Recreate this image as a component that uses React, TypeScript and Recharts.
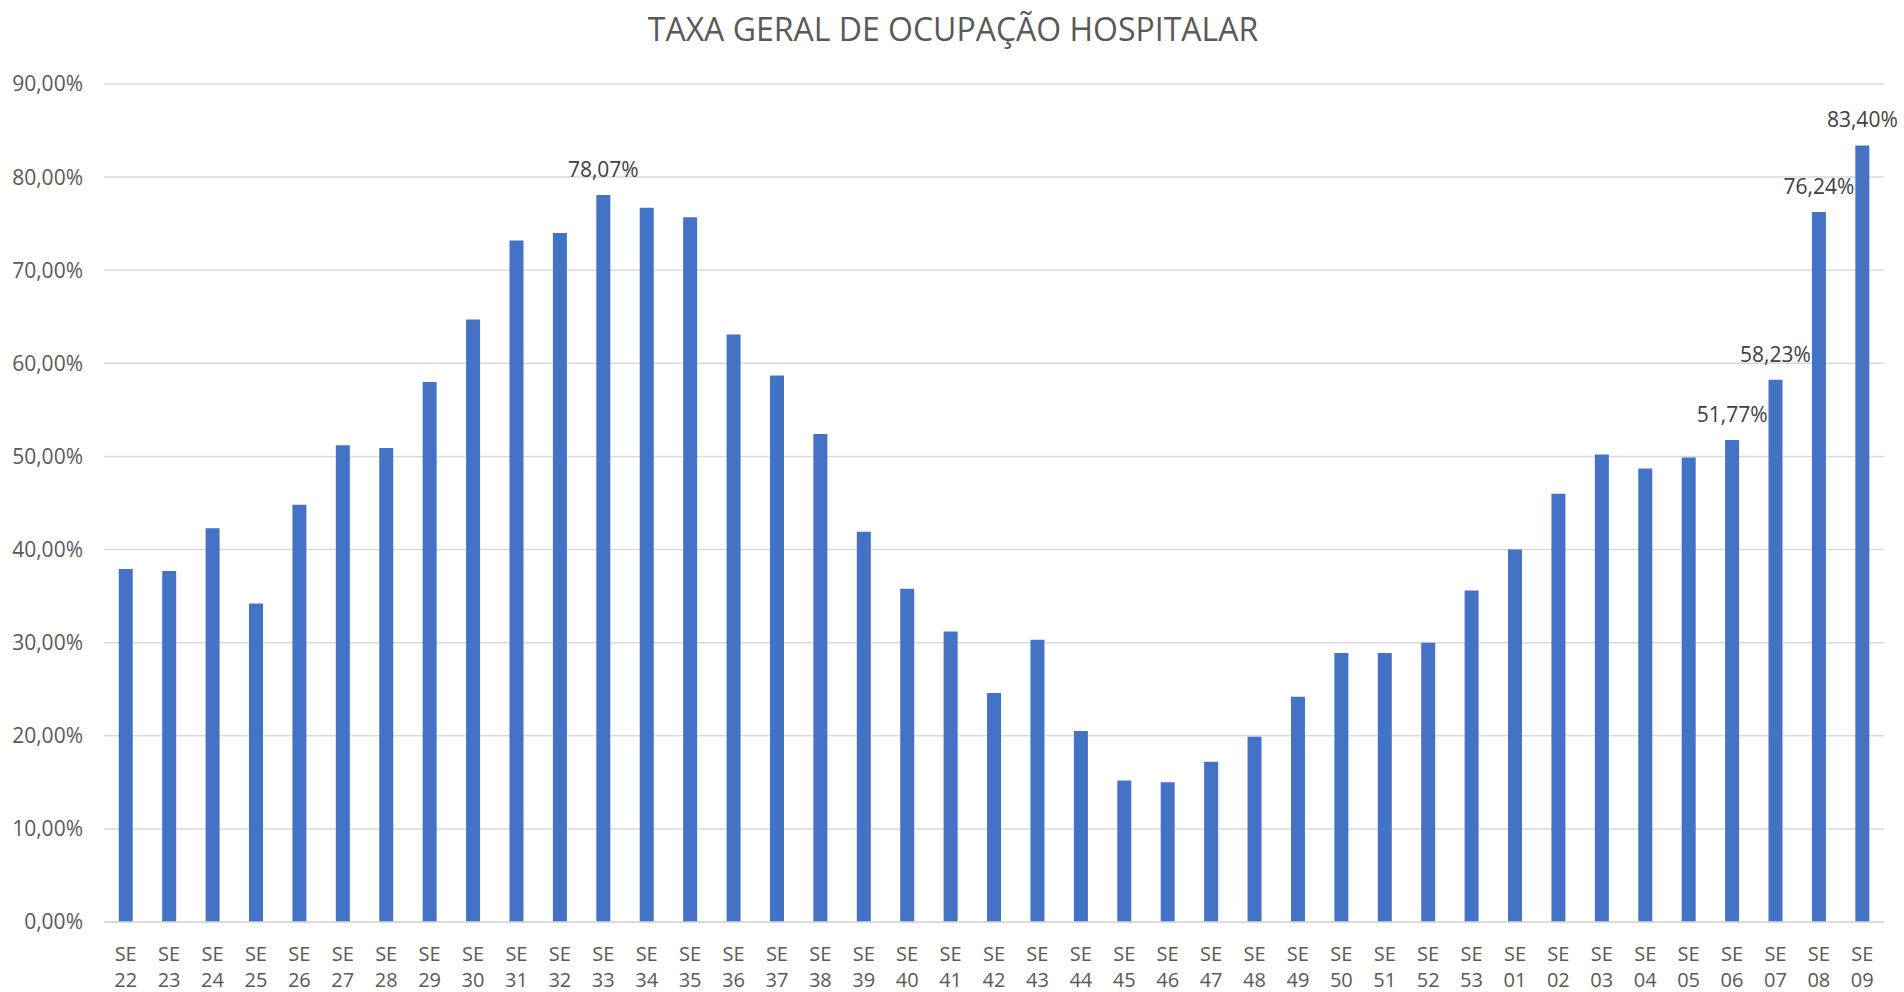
import { BarChart, Bar, XAxis, YAxis, CartesianGrid, LabelList } from "recharts";

const weeks = [
  "22", "23", "24", "25", "26", "27", "28", "29", "30", "31", "32", "33", "34", "35",
  "36", "37", "38", "39", "40", "41", "42", "43", "44", "45", "46", "47", "48", "49",
  "50", "51", "52", "53", "01", "02", "03", "04", "05", "06", "07", "08", "09",
];

const occupancy = [
  37.9, 37.7, 42.3, 34.2, 44.8, 51.2, 50.9, 58.0, 64.7, 73.2, 74.0, 78.07, 76.7, 75.7,
  63.1, 58.7, 52.4, 41.9, 35.8, 31.2, 24.6, 30.3, 20.5, 15.2, 15.0, 17.2, 19.9, 24.2,
  28.9, 28.9, 30.0, 35.6, 40.0, 46.0, 50.2, 48.7, 49.9, 51.77, 58.23, 76.24, 83.40,
];

const labeledWeeks = ["33", "06", "07", "08", "09"];

const yTicks = [0, 10, 20, 30, 40, 50, 60, 70, 80, 90];

const data = weeks.map((w, i) => ({
  week: w,
  value: occupancy[i],
  label: labeledWeeks.includes(w) ? occupancy[i].toFixed(2).replace(".", ",") + "%" : "",
}));

const FONT = "'Open Sans', sans-serif";
const TEXT = "#595959";

const fmtPct = (v: number) => v.toFixed(2).replace(".", ",") + "%";

function WeekTick({ x, y, payload }: any) {
  return (
    <text x={x} y={y} textAnchor="middle" fill={TEXT} fontSize={20} fontFamily={FONT}>
      <tspan x={x} dy={31}>SE</tspan>
      <tspan x={x} dy={26}>{payload.value}</tspan>
    </text>
  );
}

function ValueLabel({ x, y, width, value }: any) {
  if (!value) return null;
  return (
    <text x={x + width / 2} y={y - 18} textAnchor="middle" fill="#404040" fontSize={21} fontFamily={FONT}>
      {value}
    </text>
  );
}

export default function App() {
  return (
    <div style={{ position: "absolute", left: 0, top: 0, width: 1904, height: 992, background: "#fff" }}>
      <div
        style={{
          position: "absolute",
          left: 0,
          width: 1906,
          top: 8,
          textAlign: "center",
          fontFamily: FONT,
          fontSize: 32,
          color: TEXT,
          lineHeight: "42px",
        }}
      >
        TAXA GERAL DE OCUPAÇÃO HOSPITALAR
      </div>
      <BarChart
        width={1904}
        height={992}
        data={data}
        margin={{ top: 84, right: 20, left: 0, bottom: 10 }}
        barCategoryGap="34%"
      >
        <CartesianGrid vertical={false} stroke="#D9D9D9" strokeWidth={1.5} />
        <XAxis
          dataKey="week"
          interval={0}
          tick={<WeekTick />}
          tickLine={false}
          axisLine={{ stroke: "#D9D9D9", strokeWidth: 1.5 }}
          height={60}
        />
        <YAxis
          domain={[0, 90]}
          ticks={yTicks}
          tickFormatter={fmtPct}
          tickLine={false}
          axisLine={false}
          tickSize={0}
          tickMargin={21}
          width={104}
          tick={{ fill: TEXT, fontSize: 21, fontFamily: FONT }}
        />
        <Bar dataKey="value" fill="#4472C4" isAnimationActive={false}>
          <LabelList dataKey="label" content={<ValueLabel />} />
        </Bar>
      </BarChart>
    </div>
  );
}
